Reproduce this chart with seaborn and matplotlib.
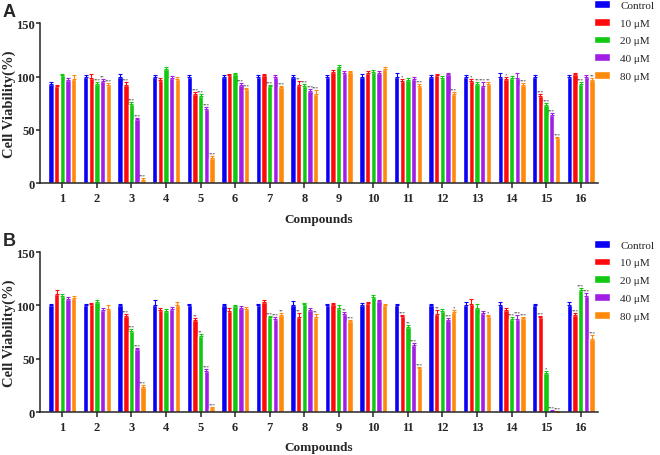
import numpy as np
import pandas as pd
import matplotlib
matplotlib.use("Agg")
import matplotlib.pyplot as plt
import seaborn as sns

# ---- data ----
compounds = [str(i) for i in range(1, 17)]
conc_labels = ["Control", "10 \u03bcM", "20 \u03bcM", "40 \u03bcM", "80 \u03bcM"]
palette = ["#0a00f5", "#ff0a0a", "#12c912", "#a21ee6", "#ff8a0a"]

# panel A
a_control = [93, 100, 100, 100, 100, 100, 100, 100, 100, 100, 100, 100, 100, 100, 100, 100]
a_10 = [91, 99, 92, 97, 84, 101, 101, 92, 104, 103, 96, 101, 96, 98, 82, 102]
a_20 = [101, 93, 74, 107, 82, 102, 91, 91, 109, 104, 97, 99, 93, 99, 73, 93]
a_40 = [97, 96, 60, 99, 70, 92, 100, 86, 103, 103, 98, 102, 91, 99, 64, 100]
a_80 = [98, 92, 3, 98, 24, 88, 90, 84, 104, 107, 91, 84, 93, 92, 42, 97]

a_sd_control = [2, 1.5, 2, 1.5, 1.5, 1.5, 1.5, 1.5, 1.5, 2, 3, 1.5, 1.5, 3, 1.5, 1.5]
a_sd_10 = [1.5, 3, 3, 1.5, 1.5, 1.5, 1.5, 4, 2, 2, 1.5, 1.5, 1.5, 2, 1.5, 1.5]
a_sd_20 = [1.5, 1.5, 2, 2, 2, 1.5, 1.5, 2, 1.5, 2, 2, 1.5, 2, 1.5, 2, 1.5]
a_sd_40 = [2, 1.5, 1.5, 1.5, 1.5, 2, 1.5, 2, 2, 2, 2, 1.5, 4, 4, 1.5, 1.5]
a_sd_80 = [3, 1.5, 1.5, 2, 1.5, 1.5, 1.5, 3, 1.5, 1.5, 2, 1.5, 2, 1.5, 1.5, 1.5]

a_st_10 = ["", "", "***", "", "***", "", "", "**", "", "", "*", "", "*", "*", "***", ""]
a_st_20 = ["", "***", "***", "", "***", "", "***", "***", "", "", "", "", "**", "", "***", "***"]
a_st_40 = ["", "**", "***", "", "***", "***", "", "***", "", "", "", "", "***", "", "***", ""]
a_st_80 = ["", "***", "***", "", "***", "***", "***", "***", "", "", "***", "***", "**", "***", "***", "**"]

# panel B
b_control = [100, 100, 100, 100, 100, 100, 100, 100, 100, 100, 100, 100, 100, 100, 100, 100]
b_10 = [111, 101, 90, 96, 86, 95, 103, 89, 101, 102, 90, 92, 101, 96, 89, 91]
b_20 = [109, 103, 76, 95, 71, 99, 89, 101, 98, 108, 80, 95, 98, 87, 37, 114]
b_40 = [106, 96, 59, 97, 39, 98, 87, 96, 92, 104, 63, 86, 93, 87, 1.5, 109]
b_80 = [107, 97, 24, 100, 4, 97, 91, 89, 85, 100, 41, 94, 90, 88, 0.5, 69]

b_sd_control = [1, 1.5, 1.5, 5, 1.5, 1.5, 1, 4, 1.5, 2, 1.5, 1.5, 3, 3, 1.5, 3]
b_sd_10 = [3, 1.5, 2, 1.5, 2, 3, 2, 4, 1.5, 1.5, 1.5, 4, 5, 1.5, 1.5, 1.5]
b_sd_20 = [1.5, 2, 1.5, 1.5, 2, 1.5, 1.5, 1.5, 2, 1.5, 2, 2, 3, 2, 1.5, 2]
b_sd_40 = [1.5, 2, 1.5, 1.5, 1.5, 1.5, 2, 1.5, 1.5, 1.5, 1.5, 2, 1.5, 4, 0.5, 3]
b_sd_80 = [1.5, 3, 1.5, 3, 1, 1.5, 2, 3, 1.5, 1.5, 1.5, 2, 1.5, 1.5, 0.3, 3]

b_st_10 = ["", "", "***", "", "**", "", "", "**", "", "", "***", "**", "", "", "***", "***"]
b_st_20 = ["", "", "***", "", "**", "", "***", "", "", "", "**", "", "", "***", "*", "***"]
b_st_40 = ["", "", "***", "", "***", "", "***", "", "**", "", "***", "***", "", "***", "***", "***"]
b_st_80 = ["", "", "***", "", "***", "", "**", "**", "***", "", "***", "*", "*", "***", "***", "***"]

# ---- style ----
sns.set_style("ticks")
plt.rcParams["font.family"] = ["Liberation Serif", "DejaVu Serif"]
plt.rcParams["axes.linewidth"] = 1.1


def make_frame(series):
    rows = []
    for lab, vals in zip(conc_labels, series):
        for c, v in zip(compounds, vals):
            rows.append({"Compounds": c, "conc": lab, "value": v})
    return pd.DataFrame(rows)


def draw_panel(ax, series, sds, stars, legend_top):
    df = make_frame(series)
    sns.barplot(data=df, x="Compounds", y="value", hue="conc",
                order=compounds, hue_order=conc_labels, palette=palette,
                errorbar=None, width=0.82, gap=0.05, saturation=1,
                legend=False, ax=ax)
    bars = list(ax.containers)
    # error bars + significance marks on top of each bar
    for k, cont in enumerate(bars):
        col = palette[k]
        for j, bar in enumerate(cont):
            xc = bar.get_x() + bar.get_width() / 2
            h = bar.get_height()
            sd = sds[k][j]
            ax.errorbar(xc, h, yerr=[[0], [sd]], fmt="none", ecolor=col,
                        elinewidth=0.8, capsize=1.3, capthick=0.8)
            if k > 0 and stars[k - 1][j]:
                ax.text(xc, h + sd + 0.5, stars[k - 1][j], ha="center",
                        va="bottom", fontsize=3.3, color="#222222")

    ax.set_ylim(0, 150)
    ax.set_xlim(-0.64, 15.5)
    ax.set_yticks([0, 50, 100, 150])
    ax.set_ylabel("Cell Viability(%)", fontsize=10.5, fontweight="bold")
    ax.yaxis.set_label_coords(-0.043, 0.5)
    ax.set_xlabel("Compounds", fontsize=9.5, fontweight="bold", labelpad=6)
    ax.tick_params(axis="x", length=3.5, width=1.1, pad=3, labelsize=9)
    ax.tick_params(axis="y", length=3, width=1.1, pad=1, labelsize=9)
    for lab in ax.get_xticklabels() + ax.get_yticklabels():
        lab.set_fontweight("bold")
    sns.despine(ax=ax)

    ax.legend(bars, conc_labels, loc="upper left",
              bbox_to_anchor=(0.895, legend_top), bbox_transform=ax.figure.transFigure,
              frameon=False, fontsize=8, handlelength=1.45, handleheight=0.7,
              labelspacing=0.72, handletextpad=0.9, borderaxespad=0, borderpad=0.3)


fig = plt.figure(figsize=(6.6, 4.56), dpi=100)
ax_a = fig.add_axes([0.061, 0.596, 0.845, 0.351])
ax_b = fig.add_axes([0.061, 0.094, 0.845, 0.351])

draw_panel(ax_a, [a_control, a_10, a_20, a_40, a_80],
           [a_sd_control, a_sd_10, a_sd_20, a_sd_40, a_sd_80],
           [a_st_10, a_st_20, a_st_40, a_st_80], 1.005)
draw_panel(ax_b, [b_control, b_10, b_20, b_40, b_80],
           [b_sd_control, b_sd_10, b_sd_20, b_sd_40, b_sd_80],
           [b_st_10, b_st_20, b_st_40, b_st_80], 0.479)

fig.text(0.004, 0.992, "A", fontsize=13, fontweight="bold", va="top",
         family=["Liberation Sans", "DejaVu Sans"])
fig.text(0.004, 0.49, "B", fontsize=13, fontweight="bold", va="top",
         family=["Liberation Sans", "DejaVu Sans"])

fig.savefig("out.png", dpi=100)
